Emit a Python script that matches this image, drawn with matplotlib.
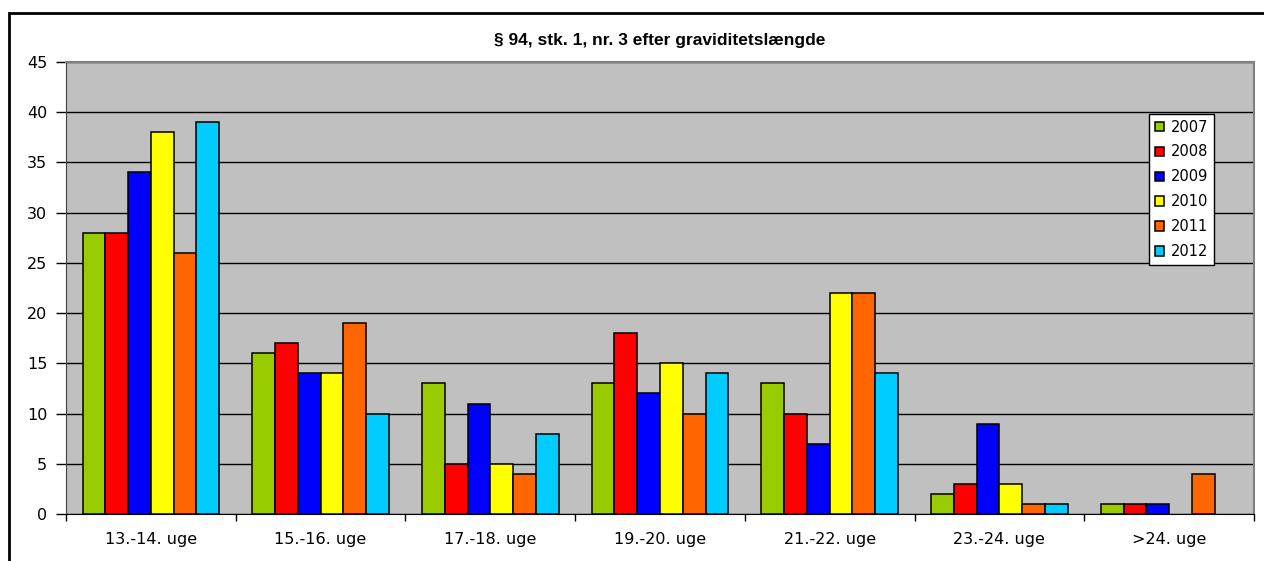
import matplotlib
matplotlib.use("Agg")
import matplotlib.pyplot as plt
import numpy as np
from matplotlib.patches import Rectangle

categories = ["13.-14. uge", "15.-16. uge", "17.-18. uge", "19.-20. uge",
              "21.-22. uge", "23.-24. uge", ">24. uge"]
years = ["2007", "2008", "2009", "2010", "2011", "2012"]
v2007 = [28, 16, 13, 13, 13, 2, 1]
v2008 = [28, 17, 5, 18, 10, 3, 1]
v2009 = [34, 14, 11, 12, 7, 9, 1]
v2010 = [38, 14, 5, 15, 22, 3, 0]
v2011 = [26, 19, 4, 10, 22, 1, 4]
v2012 = [39, 10, 8, 14, 14, 1, 0]
series = [v2007, v2008, v2009, v2010, v2011, v2012]
colors = ["#99CC00", "#FF0000", "#0000FF", "#FFFF00", "#FF6600", "#00CCFF"]

plt.rcParams['font.family'] = ['DejaVu Sans']

W, H = 1264, 561
fig = plt.figure(figsize=(W / 100, H / 100), dpi=100)
fig.patch.set_facecolor("white")

# outer chart frame
fig.patches.append(Rectangle((9 / W, -0.1), 1.2, 1 - 13 / H + 0.1,
                             transform=fig.transFigure, fill=False,
                             edgecolor="black", linewidth=2, zorder=0))

left, right, top, bottom = 66, 1254, 62, 514
ax = fig.add_axes([left / W, 1 - bottom / H, (right - left) / W, (bottom - top) / H])
ax.set_facecolor("#C0C0C0")

n = len(categories)
x = np.arange(n)
group = 0.805
bw = group / len(series)
for i, (vals, c, y) in enumerate(zip(series, colors, years)):
    offs = -group / 2 + bw * (i + 0.5)
    lw = [1.1 if v > 0 else 0 for v in vals]
    ax.bar(x + offs, vals, width=bw, color=c, edgecolor="black",
           linewidth=lw, label=y, zorder=3)

ax.set_xlim(-0.5, n - 0.5)
ax.set_ylim(0, 45)
ax.set_yticks(range(0, 46, 5))
ax.yaxis.grid(True, color="black", linewidth=1, zorder=1)
ax.set_axisbelow(True)

ax.set_xticks(np.arange(-0.5, n, 1))
ax.set_xticklabels([])
ax.set_xticks(x, minor=True)
ax.set_xticklabels(categories, minor=True)
ax.tick_params(axis="x", which="minor", length=0, pad=13, labelsize=11.5)
ax.tick_params(axis="x", which="major", length=5, width=1, color="black", direction="out")
ax.tick_params(axis="y", length=7, width=1, color="black", labelsize=11.5, pad=6.5)

for s in ["top", "right"]:
    ax.spines[s].set_color("#808080")
    ax.spines[s].set_linewidth(1.5)
ax.spines["left"].set_color("#404040")
ax.spines["bottom"].set_color("black")

ax.set_title("§ 94, stk. 1, nr. 3 efter graviditetslængde", fontsize=12.5,
             fontweight="bold", pad=12, family="Liberation Sans")

leg = ax.legend(loc="upper left",
                bbox_to_anchor=((1149 - left) / (right - left), 1 - (114 - top) / (bottom - top)),
                fontsize=10.5, frameon=True, fancybox=False, borderpad=0.38,
                handlelength=0.62, handleheight=0.62, handletextpad=0.5,
                labelspacing=0.68, borderaxespad=0, framealpha=1)
leg.get_frame().set_edgecolor("black")
leg.get_frame().set_facecolor("white")
leg.get_frame().set_linewidth(1)

fig.savefig("out.png", dpi=100)
